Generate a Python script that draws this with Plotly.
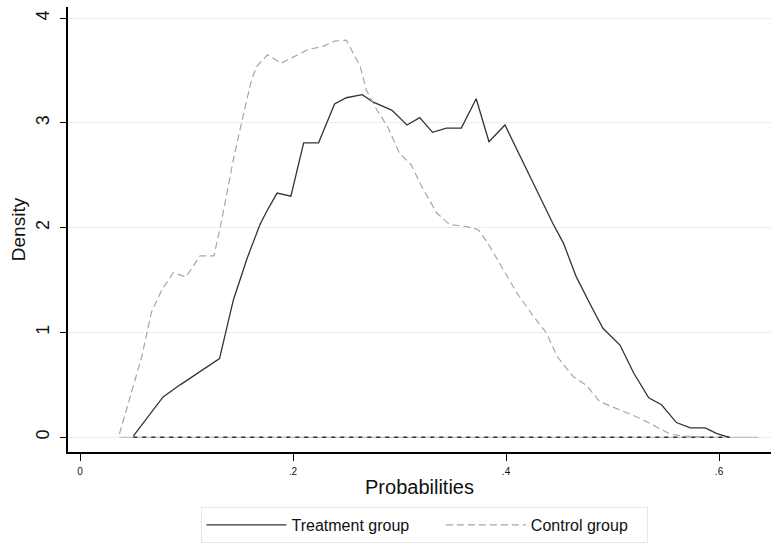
import plotly.graph_objects as go

# Treatment group density (solid dark)
treat_x = [0.050, 0.064, 0.078, 0.094, 0.113, 0.131, 0.144, 0.157, 0.169, 0.175, 0.185, 0.198,
           0.210, 0.224, 0.239, 0.250, 0.265, 0.275, 0.293, 0.307, 0.319, 0.331, 0.344, 0.358,
           0.372, 0.384, 0.399, 0.413, 0.429, 0.444, 0.454, 0.466, 0.480, 0.491, 0.507, 0.520,
           0.534, 0.546, 0.560, 0.573, 0.587, 0.598, 0.609]
treat_y = [0.01, 0.20, 0.385, 0.50, 0.63, 0.75, 1.31, 1.71, 2.03, 2.15, 2.33, 2.30,
           2.81, 2.81, 3.18, 3.24, 3.27, 3.20, 3.12, 2.98, 3.05, 2.91, 2.95, 2.95,
           3.23, 2.82, 2.98, 2.69, 2.36, 2.04, 1.85, 1.53, 1.25, 1.04, 0.88, 0.61,
           0.376, 0.31, 0.14, 0.09, 0.09, 0.035, 0.0]

# Control group density (dashed grey)
ctrl_x = [0.037, 0.058, 0.067, 0.077, 0.0876, 0.0995, 0.1127, 0.1258, 0.133, 0.144, 0.153, 0.161,
          0.166, 0.176, 0.189, 0.200, 0.214, 0.228, 0.239, 0.250, 0.263, 0.269, 0.279, 0.289,
          0.300, 0.311, 0.321, 0.335, 0.347, 0.363, 0.374, 0.383, 0.394, 0.410, 0.426, 0.438,
          0.448, 0.463, 0.476, 0.488, 0.507, 0.526, 0.541, 0.554, 0.567, 0.590]
ctrl_y = [0.03, 0.77, 1.19, 1.41, 1.57, 1.53, 1.73, 1.73, 2.07, 2.65, 3.06, 3.41,
          3.54, 3.65, 3.57, 3.63, 3.70, 3.73, 3.78, 3.79, 3.54, 3.31, 3.12, 2.96,
          2.71, 2.60, 2.39, 2.14, 2.03, 2.01, 1.98, 1.85, 1.66, 1.38, 1.15, 0.995,
          0.77, 0.58, 0.49, 0.34, 0.26, 0.18, 0.10, 0.03, 0.01, 0.0]

# Zero baselines
base_dark_x = [0.050, 0.610]
base_light_x = [0.037, 0.637]
base_y = [0, 0]

series_names = ["Treatment group", "Control group"]
x_ticks = [0, 0.2, 0.4, 0.6]
x_tick_labels = ["0", ".2", ".4", ".6"]
y_ticks = [0, 1, 2, 3, 4]
y_tick_labels = ["0", "1", "2", "3", "4"]

FONT = "Liberation Sans, Arial, sans-serif"
NB = "\u00a0"

fig = go.Figure()
fig.add_trace(go.Scatter(x=base_light_x, y=base_y, mode="lines", showlegend=False,
                         line=dict(color="#b5b5b5", width=1.2), hoverinfo="skip"))
fig.add_trace(go.Scatter(x=base_dark_x, y=base_y, mode="lines", showlegend=False,
                         line=dict(color="#333333", width=1.3, dash="4px,5px"), hoverinfo="skip"))
fig.add_trace(go.Scatter(x=treat_x, y=treat_y, mode="lines", name=series_names[0] + NB * 6,
                         line=dict(color="#333333", width=1.3)))
fig.add_trace(go.Scatter(x=ctrl_x, y=ctrl_y, mode="lines", name=series_names[1] + NB * 3,
                         line=dict(color="#a6a6a6", width=1.2, dash="7px,4px")))

fig.update_layout(
    width=771, height=549,
    margin=dict(l=68, r=0, t=7, b=97),
    paper_bgcolor="white", plot_bgcolor="white",
    font=dict(family=FONT, color="#111111"),
    showlegend=True,
    legend=dict(orientation="h", xref="container", yref="container",
                x=424 / 771, xanchor="center", y=1 - 507 / 549, yanchor="top",
                bordercolor="#dfe8ee", borderwidth=1, bgcolor="white",
                font=dict(size=16, family=FONT), itemwidth=80),
    xaxis=dict(range=[-0.01127, 0.6488], tickvals=x_ticks, ticktext=x_tick_labels,
               showgrid=False, zeroline=False, showline=True, linecolor="black", linewidth=1.5,
               ticks="outside", ticklen=7, tickcolor="black", tickwidth=1.3,
               tickfont=dict(size=10), ticklabelstandoff=2,
               title=dict(text="Probabilities", font=dict(size=20), standoff=4)),
    yaxis=dict(range=[-0.141, 4.106], tickvals=y_ticks, ticktext=y_tick_labels,
               showgrid=True, gridcolor="#e8eff3", gridwidth=1, zeroline=False,
               showline=True, linecolor="black", linewidth=1.5,
               ticks="outside", ticklen=6, tickcolor="black", tickwidth=1.3,
               tickangle=-90, tickfont=dict(size=18), ticklabelstandoff=4,
               title=dict(text="Density", font=dict(size=19), standoff=2)),
)

fig.write_html("out.html")
